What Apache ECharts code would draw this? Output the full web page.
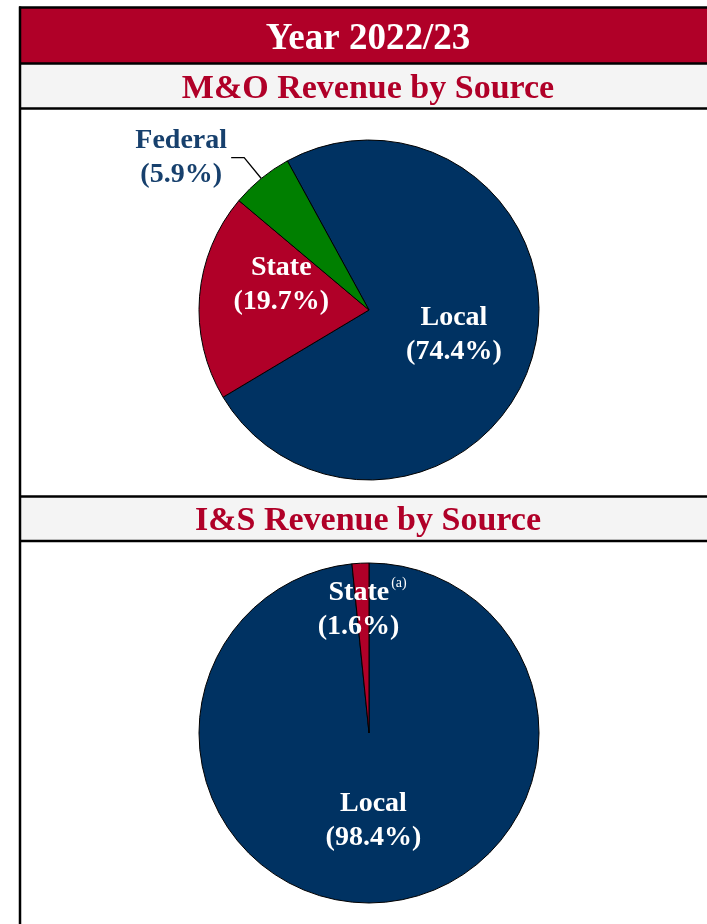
<!DOCTYPE html>
<html>
<head>
<meta charset="utf-8" />
<title>Revenue by Source</title>
<script src="https://cdn.jsdelivr.net/npm/echarts@6/dist/echarts.min.js"></script>
<style>
  html, body { margin: 0; padding: 0; background: #fff; }
</style>
</head>
<body>
<div id="main" style="width: 707px;height:924px;"></div>
<script type="text/javascript">
// 数据
const yearTitle = 'Year 2022/23';
const moTitle = 'M&O Revenue by Source';
const isTitle = 'I&S Revenue by Source';

const moSources = ['Local', 'State', 'Federal'];
const moShares = [74.4, 19.7, 5.9];

const isSources = ['Local', 'State'];
const isShares = [98.4, 1.6];

const NAVY = '#003262';
const RED = '#B00028';
const GREEN = '#007F00';
const GRAY = '#F4F4F4';
const SERIF = '"Liberation Serif", "DejaVu Serif", serif';

const sliceColors = {Local: NAVY, State: RED, Federal: GREEN};

let myChart = echarts.init(document.getElementById('main'));

// 横线
function hLine(y) {
    return {
        type: 'line', z: 10,
        shape: {x1: 19, y1: y, x2: 707, y2: y},
        style: {stroke: '#000', lineWidth: 2.5}
    };
}

function bandText(text, y, color, size) {
    return {
        type: 'text', z: 11, x: 368, y: y,
        style: {
            text: text, fill: color, font: 'bold ' + size + 'px ' + SERIF,
            textAlign: 'center', textVerticalAlign: 'middle'
        }
    };
}

const baseLabel = {
    color: '#fff',
    fontFamily: SERIF,
    fontWeight: 'bold',
    fontSize: 28,
    lineHeight: 34
};

let option = {
    animation: false,
    graphic: [
        {type: 'rect', shape: {x: 19, y: 7, width: 700, height: 56}, style: {fill: RED}},
        {type: 'rect', shape: {x: 19, y: 64, width: 700, height: 44}, style: {fill: GRAY}},
        {type: 'rect', shape: {x: 19, y: 496, width: 700, height: 45}, style: {fill: GRAY}},
        hLine(7.5), hLine(63.5), hLine(108.5), hLine(496.5), hLine(541),
        {
            type: 'line', z: 10,
            shape: {x1: 20, y1: 6.5, x2: 20, y2: 924},
            style: {stroke: '#000', lineWidth: 2.5}
        },
        bandText(yearTitle, 39, '#fff', 37),
        bandText(moTitle, 89, RED, 34),
        bandText(isTitle, 521, RED, 34)
    ],
    series: [
        {
            type: 'pie',
            center: [369, 310],
            radius: 170,
            startAngle: 118.7,
            clockwise: true,
            avoidLabelOverlap: false,
            itemStyle: {borderColor: '#000', borderWidth: 1},
            label: Object.assign({
                position: 'inside',
                formatter: '{b}\n({c}%)'
            }, baseLabel),
            labelLine: {show: false},
            labelLayout: function (p) {
                if (p.dataIndex === 1) return {dy: -18};
                if (p.dataIndex === 0) return {dy: 2};
            },
            data: moSources.map((s, i) => {
                let item = {name: s, value: moShares[i], itemStyle: {color: sliceColors[s]}};
                if (s === 'Federal') {
                    item.label = {
                        position: 'outside',
                        color: NAVY,
                        distanceToLabelLine: 4,
                        formatter: '{a|{b}}\n{a|({c}%)}',
                        rich: {
                            a: {
                                width: 92, align: 'center', color: '#17406D',
                                fontFamily: SERIF, fontWeight: 'bold', fontSize: 28, lineHeight: 34
                            }
                        }
                    };
                    item.labelLine = {
                        show: true, length: 27, length2: 13,
                        lineStyle: {color: '#000', width: 1.3}
                    };
                }
                return item;
            })
        },
        {
            type: 'pie',
            center: [369, 733],
            radius: 170,
            startAngle: 90,
            clockwise: true,
            avoidLabelOverlap: false,
            itemStyle: {borderColor: '#000', borderWidth: 1},
            label: Object.assign({
                position: 'inside',
                formatter: function (p) {
                    if (p.name === 'State') return '{b|State}{s|(a)}\n(' + p.value + '%)';
                    return p.name + '\n(' + p.value + '%)';
                },
                rich: {
                    b: {
                        color: '#fff', fontFamily: SERIF, fontWeight: 'bold',
                        fontSize: 28, lineHeight: 34, padding: [0, 0, 0, 18]
                    },
                    s: {
                        color: '#fff', fontFamily: SERIF, fontWeight: 'normal', fontSize: 14,
                        verticalAlign: 'top', lineHeight: 34, padding: [0, 0, 10, 2]
                    }
                }
            }, baseLabel),
            labelLine: {show: false},
            labelLayout: function (p) {
                if (p.dataIndex === 1) return {dx: -6, dy: -35};
            },
            data: isSources.map((s, i) => ({
                name: s, value: isShares[i], itemStyle: {color: sliceColors[s]}
            }))
        }
    ]
};
myChart.setOption(option);
</script>
</body>
</html>
